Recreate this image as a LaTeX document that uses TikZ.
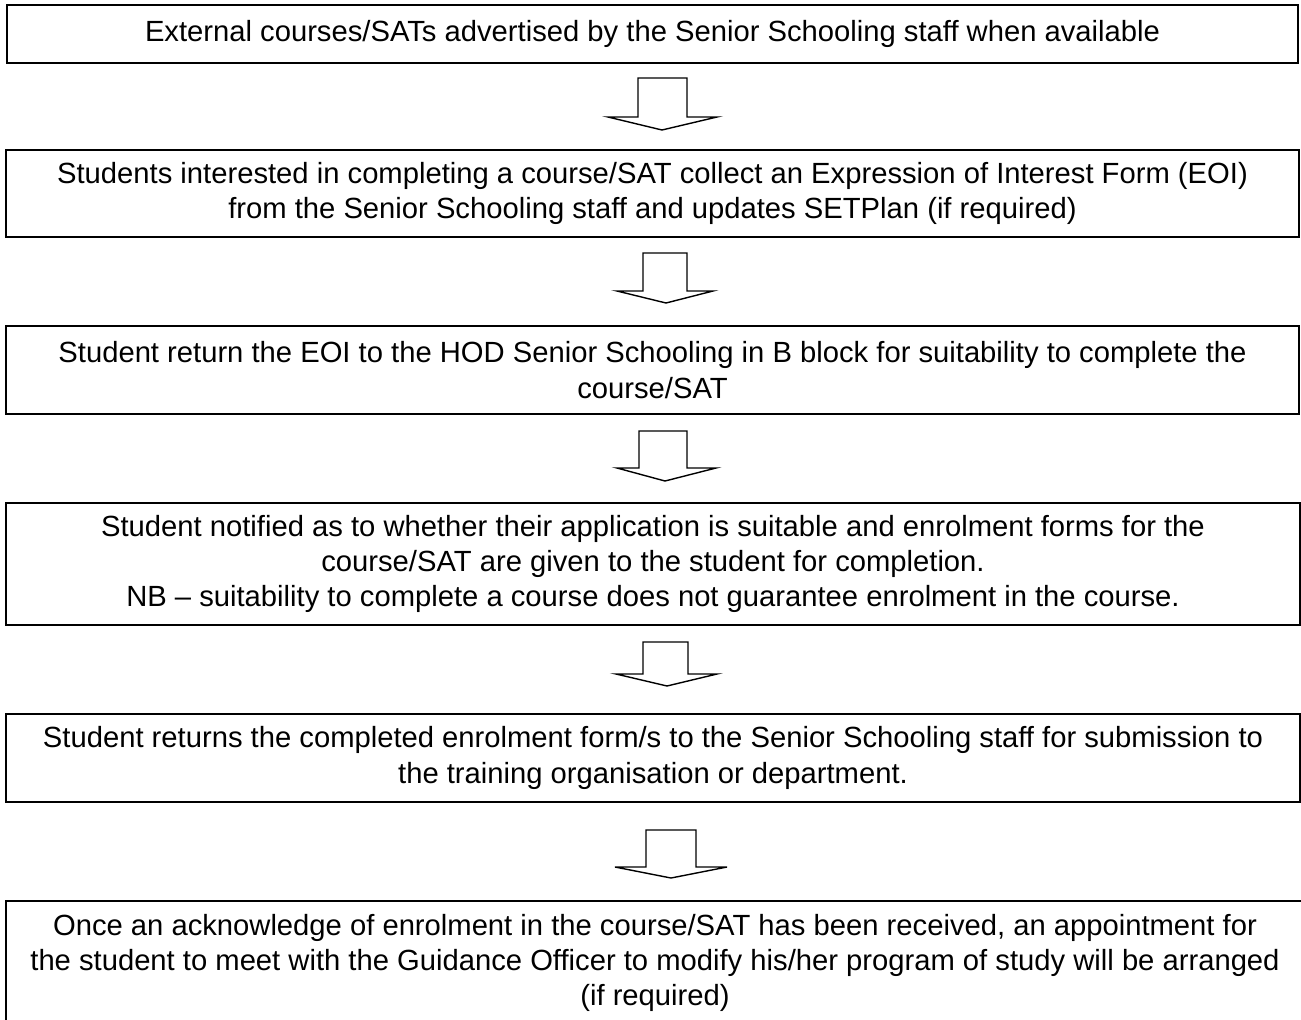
\documentclass[tikz,border=0pt]{standalone}
\usepackage{fontspec}
\setmainfont{Liberation Sans}
\begin{document}
\begin{tikzpicture}[x=0.5pt,y=-0.5pt,
  stepbox/.style={draw=black,line width=1.1pt,rectangle,inner sep=0pt,align=center,
    font=\fontsize{14.6}{17.6}\selectfont},
  blockarrow/.style={draw=black,line width=0.7pt,line join=miter,fill=white}]
\useasboundingbox (0,0) rectangle (1301,1019);
\clip (0,0) rectangle (1301,1019);
\node[stepbox,minimum width=645.5pt,minimum height=29pt] (b1) at (652.5,34)
  {External courses/SATs advertised by the Senior Schooling staff when available};
\node[stepbox,minimum width=646.5pt,minimum height=43.5pt] (b2) at (652.5,193.5)
  {Students interested in completing a course/SAT collect an Expression of Interest Form (EOI)\\from the Senior Schooling staff and updates SETPlan (if required)};
\node[stepbox,minimum width=646.5pt,minimum height=44pt] (b3) at (652.5,370)
  {Student return the EOI to the HOD Senior Schooling in B block for suitability to complete the\\course/SAT};
\node[stepbox,minimum width=647pt,minimum height=61pt] (b4) at (653,564)
  {Student notified as to whether their application is suitable and enrolment forms for the\\course/SAT are given to the student for completion.\\NB -- suitability to complete a course does not guarantee enrolment in the course.};
\node[stepbox,minimum width=647pt,minimum height=44pt] (b5) at (653,758)
  {Student returns the completed enrolment form/s to the Senior Schooling staff for submission to\\the training organisation or department.};
\node[stepbox,minimum width=649pt,minimum height=62pt] (b6) at (655,963)
  {Once an acknowledge of enrolment in the course/SAT has been received, an appointment for\\the student to meet with the Guidance Officer to modify his/her program of study will be arranged\\(if required)};
% block arrows between steps
\draw[blockarrow] (638,78) -- (687,78) -- (687,117) -- (717,117) -- (662,130) -- (608,117) -- (638,117) -- cycle;
\draw[blockarrow] (643,253) -- (687,253) -- (687,291) -- (713,291) -- (666,303) -- (617,291) -- (643,291) -- cycle;
\draw[blockarrow] (639,431) -- (687,431) -- (687,468) -- (716,468) -- (665,481) -- (617,468) -- (639,468) -- cycle;
\draw[blockarrow] (643,642) -- (688,642) -- (688,674) -- (717,674) -- (667,686) -- (616,674) -- (643,674) -- cycle;
\draw[blockarrow] (646,830) -- (696,830) -- (696,867) -- (727,867) -- (671,878) -- (615,867) -- (646,867) -- cycle;
\end{tikzpicture}
\end{document}
